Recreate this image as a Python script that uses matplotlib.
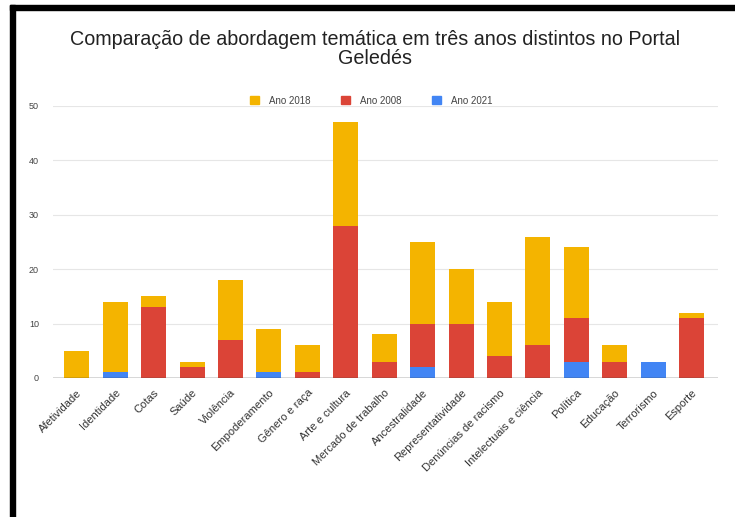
import numpy as np
import matplotlib.pyplot as plt
from matplotlib.patches import Rectangle, Patch

plt.rcParams['font.family'] = ['Liberation Sans', 'DejaVu Sans']

temas = ['Afetividade', 'Identidade', 'Cotas', 'Saúde', 'Violência',
         'Empoderamento', 'Gênero e raça', 'Arte e cultura',
         'Mercado de trabalho', 'Ancestralidade', 'Representatividade',
         'Denúncias de racismo', 'Intelectuais e ciência', 'Política',
         'Educação', 'Terrorismo', 'Esporte']
ano_2021 = [0, 1, 0, 0, 0, 1, 0, 0, 0, 2, 0, 0, 0, 3, 0, 3, 0]
ano_2008 = [0, 0, 13, 2, 7, 0, 1, 28, 3, 8, 10, 4, 6, 8, 3, 0, 11]
ano_2018 = [5, 13, 2, 1, 11, 8, 5, 19, 5, 15, 10, 10, 20, 13, 3, 0, 1]

amarelo = '#F4B400'
vermelho = '#DB4437'
azul = '#4285F4'

fig = plt.figure(figsize=(7.35, 5.17), dpi=100)
ax = fig.add_axes([0.072, 0.269, 0.905, 0.526])

x = np.arange(len(temas))
w = 0.65
b1 = np.array(ano_2021)
b2 = b1 + np.array(ano_2008)
ax.bar(x, ano_2021, w, color=azul, zorder=2)
ax.bar(x, ano_2008, w, bottom=b1, color=vermelho, zorder=2)
ax.bar(x, ano_2018, w, bottom=b2, color=amarelo, zorder=2)

ax.set_xlim(-0.62, 16.69)
ax.set_ylim(0, 50)
ax.set_yticks([0, 10, 20, 30, 40, 50])
ax.yaxis.grid(True, color='#e6e6e6', lw=0.8, zorder=0)
ax.axhline(0, color='#444444', lw=1.0, zorder=3)
for s in ax.spines.values():
    s.set_visible(False)
ax.tick_params(axis='y', length=0, labelsize=6.5, labelcolor='#444444', pad=10)
ax.tick_params(axis='x', length=0, pad=7)
ax.set_xticks(x)
ax.set_xticklabels(temas, rotation=45, ha='right', rotation_mode='anchor',
                   fontsize=8, color='#333333')

fig.text(0.51, 0.905, 'Comparação de abordagem temática em três anos distintos no Portal\nGeledés',
         ha='center', va='center', fontsize=14.2, color='#222222', linespacing=1.05)

handles = [Patch(color=amarelo, label='Ano 2018'),
           Patch(color=vermelho, label='Ano 2008'),
           Patch(color=azul, label='Ano 2021')]
fig.legend(handles=handles, loc='center', bbox_to_anchor=(0.505, 0.805), ncol=3,
           frameon=False, fontsize=7, handlelength=0.9, handleheight=0.9,
           columnspacing=3.2, handletextpad=1.0, labelcolor='#444444')

# moldura preta (topo e esquerda)
fig.add_artist(Rectangle((10 / 735, 0), 5 / 735, 1 - 5 / 517,
                         transform=fig.transFigure, color='black'))
fig.add_artist(Rectangle((10 / 735, 1 - 10 / 517), 1, 5 / 517,
                         transform=fig.transFigure, color='black'))

fig.savefig('out.png', dpi=100)
